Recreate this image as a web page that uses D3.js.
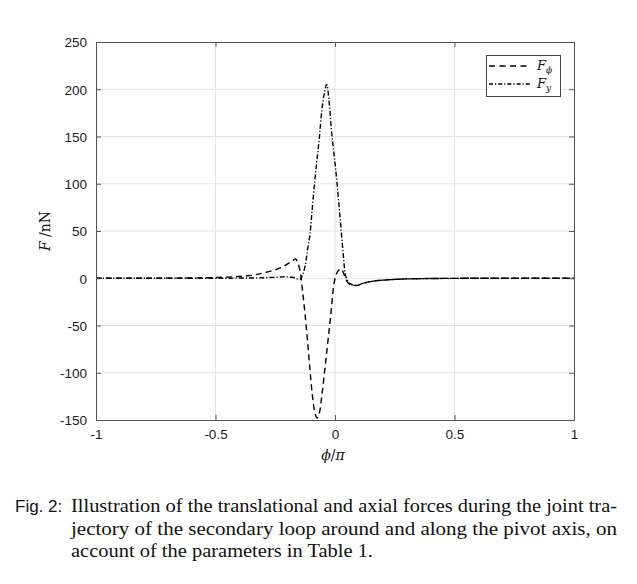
<!DOCTYPE html>
<html><head><meta charset="utf-8">
<script src="https://cdn.jsdelivr.net/npm/d3@7"></script>
<style>
html,body{margin:0;padding:0;background:#fff;}
svg{display:block;}
</style></head>
<body>
<svg id="c" width="637" height="584"></svg>
<script>
// ---- data ----
const phi = [-1, -0.8, -0.6, -0.5, -0.45, -0.4, -0.35, -0.3, -0.25, -0.22, -0.2, -0.18, -0.165, -0.155, -0.145, -0.135, -0.125, -0.115, -0.105, -0.095, -0.085, -0.075, -0.065, -0.055, -0.045, -0.035, -0.025, -0.015, -0.005, 0.005, 0.015, 0.025, 0.035, 0.045, 0.055, 0.065, 0.08, 0.095, 0.11, 0.13, 0.16, 0.2, 0.25, 0.3, 0.4, 0.5, 0.7, 1];
const Fphi = [0, 0, 0.3, 0.8, 1.2, 2, 3, 5.5, 9, 12, 15, 18, 20.5, 16, 6, -15, -39, -66, -96, -123, -141, -148, -142, -124, -102, -79, -56, -32, -7, 4, 8.5, 10, 6, -1, -5, -7, -7.5, -7.5, -6, -4.5, -3, -2, -1.2, -0.7, -0.3, -0.1, 0, 0];
const Fy = [0, 0, 0, 0, 0, 0.2, 0.3, 0.5, 1, 1.5, 1.5, 1, 0, -1, -1, 4, 13, 30, 46, 74, 102, 126, 150, 178, 195, 205, 188, 157, 133, 110, 82, 53, 24, 2, -3, -6, -7.5, -7.5, -6, -4.5, -3, -2, -1.2, -0.7, -0.3, -0.1, 0, 0];
const xTicks = [-1, -0.5, 0, 0.5, 1];
const xTickLabels = ["-1", "-0.5", "0", "0.5", "1"];
const yTicks = [-150, -100, -50, 0, 50, 100, 150, 200, 250];
const yTickLabels = ["-150", "-100", "-50", "0", "50", "100", "150", "200", "250"];
const captionLines = [
  "Illustration of the translational and axial forces during the joint tra-",
  "jectory of the secondary loop around and along the pivot axis, on",
  "account of the parameters in Table 1."
];

const svg = d3.select("#c");
const L = 96, R = 574, T = 42, B = 420;
const x = d3.scaleLinear().domain([-1, 1]).range([L, R]);
const y = d3.scaleLinear().domain([-150, 250]).range([B, T]);

const axisColor = "#555";
const gridColor = "#e4e4e4";

// grid
svg.append("g").selectAll("line").data(xTicks.slice(1, -1)).join("line")
  .attr("x1", d => x(d)).attr("x2", d => x(d)).attr("y1", T).attr("y2", B)
  .attr("stroke", gridColor).attr("stroke-width", 1);
svg.append("g").selectAll("line").data(yTicks.slice(1, -1)).join("line")
  .attr("y1", d => y(d)).attr("y2", d => y(d)).attr("x1", L).attr("x2", R)
  .attr("stroke", gridColor).attr("stroke-width", 1);

// lines
const line = (ys) => d3.line().x((d, i) => x(phi[i])).y((d) => y(d)).curve(d3.curveCatmullRom.alpha(0.5))(ys);
svg.append("path").attr("d", line(Fy)).attr("fill", "none").attr("stroke", "#000")
  .attr("stroke-width", 1.4).attr("stroke-dasharray", "5,2,1.2,2");
svg.append("path").attr("d", line(Fphi)).attr("fill", "none").attr("stroke", "#000")
  .attr("stroke-width", 1.4).attr("stroke-dasharray", "6,4");

// axes
const fontSans = "'Liberation Sans', Arial, sans-serif";
const gx = svg.append("g").attr("transform", `translate(0,${B})`)
  .call(d3.axisBottom(x).tickValues(xTicks).tickFormat((d, i) => xTickLabels[i]).tickSizeInner(-5).tickSizeOuter(0).tickPadding(9));
const gxt = svg.append("g").attr("transform", `translate(0,${T})`)
  .call(d3.axisTop(x).tickValues(xTicks).tickFormat("").tickSizeInner(-5).tickSizeOuter(0));
const gy = svg.append("g").attr("transform", `translate(${L},0)`)
  .call(d3.axisLeft(y).tickValues(yTicks).tickFormat((d, i) => yTickLabels[i]).tickSizeInner(-5).tickSizeOuter(0).tickPadding(9));
const gyr = svg.append("g").attr("transform", `translate(${R},0)`)
  .call(d3.axisRight(y).tickValues(yTicks).tickFormat("").tickSizeInner(-5).tickSizeOuter(0));
[gx, gxt, gy, gyr].forEach(g => {
  g.selectAll("path.domain").attr("stroke", axisColor);
  g.selectAll("line").attr("stroke", axisColor);
  g.selectAll("text").attr("fill", "#1a1a1a").style("font-family", fontSans).style("font-size", "13.5px");
});
gy.selectAll("text").attr("dy", "0.36em");

// axis labels
const serif = "'DejaVu Serif', 'Liberation Serif', serif";
const yl = svg.append("text").attr("transform", `translate(50,231) rotate(-90)`)
  .attr("text-anchor", "middle").style("font-family", serif).style("font-size", "14px").attr("fill", "#111");
yl.append("tspan").style("font-style", "italic").text("F");
yl.append("tspan").text(" /nN");
const xl = svg.append("text").attr("x", x(0) - 2).attr("y", 460).attr("text-anchor", "middle")
  .style("font-family", serif).style("font-size", "14px").style("font-style", "italic").attr("fill", "#111");
xl.append("tspan").text("\u03d5");
xl.append("tspan").style("font-style", "normal").text("/");
xl.append("tspan").text("\u03c0");

// legend
const lg = svg.append("g");
lg.append("rect").attr("x", 486.5).attr("y", 55.5).attr("width", 74).attr("height", 41)
  .attr("fill", "#fff").attr("stroke", "#444").attr("stroke-width", 1);
lg.append("line").attr("x1", 489).attr("x2", 530).attr("y1", 66).attr("y2", 66)
  .attr("stroke", "#000").attr("stroke-width", 1.4).attr("stroke-dasharray", "6,4.5");
lg.append("line").attr("x1", 489).attr("x2", 530).attr("y1", 84).attr("y2", 84)
  .attr("stroke", "#000").attr("stroke-width", 1.4).attr("stroke-dasharray", "4,2,1.2,2");
const t1 = lg.append("text").attr("x", 537).attr("y", 70).style("font-family", serif)
  .style("font-size", "13px").style("font-style", "italic").attr("fill", "#111");
t1.append("tspan").text("F");
t1.append("tspan").attr("dy", 3).style("font-size", "9px").text("\u03d5");
const t2 = lg.append("text").attr("x", 537).attr("y", 88).style("font-family", serif)
  .style("font-size", "13px").style("font-style", "italic").attr("fill", "#111");
t2.append("tspan").text("F");
t2.append("tspan").attr("dy", 3).style("font-size", "9px").text("y");

// caption
svg.append("text").attr("x", 15).attr("y", 512).style("font-family", fontSans)
  .style("font-size", "17px").attr("fill", "#111").text("Fig. 2:");
const capY = [512, 534.5, 557];
const capW = [546, 546, 302];
captionLines.forEach((s, i) => {
  svg.append("text").attr("x", 71).attr("y", capY[i])
    .style("font-family", "'Liberation Serif', serif").style("font-size", "19px").attr("fill", "#111")
    .attr("textLength", capW[i]).attr("lengthAdjust", "spacingAndGlyphs").text(s);
});
</script>
</body></html>
